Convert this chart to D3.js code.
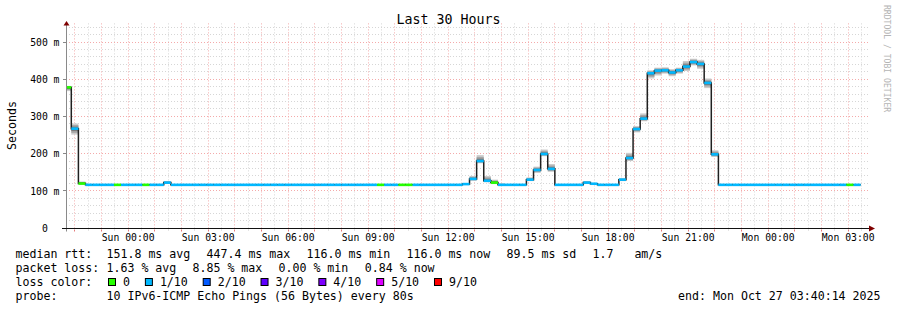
<!DOCTYPE html>
<html>
<head>
<meta charset="utf-8">
<script src="https://cdn.jsdelivr.net/npm/d3@7"></script>
<style>
  body { margin: 0; background: #fff; }
  svg { display: block; font-family: "DejaVu Sans Mono", monospace; }
  text { white-space: pre; }
</style>
</head>
<body>
<div id="chart"></div>
<script>
// median rtt per 960s bin (ms), 112 bins
const medianRtt = [
  378, 267, 119.5, 116, 116, 116, 116, 116, 116, 116, 116, 116, 116, 116, 122, 116,
  116, 116, 116, 116, 116, 116, 116, 116, 116, 116, 116, 116, 116, 116, 116, 116,
  116, 116, 116, 116, 116, 116, 116, 116, 116, 116, 116, 116, 116, 116, 116, 116,
  116, 116, 116, 116, 116, 116, 116, 116, 118, 132, 180, 127, 122, 116, 116, 116,
  116, 130, 156, 199, 159, 116, 116, 116, 116, 122, 119, 116, 116, 116, 130, 188,
  266, 294, 416, 423, 424, 418, 424, 434, 446, 441, 390, 198, 116, 116, 116, 116,
  116, 116, 116, 116, 116, 116, 116, 116, 116, 116, 116, 116, 116, 116, 116, 116
];
// lost pings out of 10, per bin
const lossTenths = [
  0, 1, 0, 1, 1, 1, 1, 0, 1, 1, 1, 0, 1, 1, 1, 1,
  1, 1, 1, 1, 1, 1, 1, 1, 1, 1, 1, 1, 1, 1, 1, 1,
  1, 1, 1, 1, 1, 1, 1, 1, 1, 1, 1, 1, 0, 1, 1, 0,
  0, 1, 1, 1, 1, 1, 1, 1, 1, 1, 1, 1, 0, 1, 1, 1,
  1, 1, 1, 1, 1, 1, 1, 1, 1, 1, 1, 1, 1, 1, 1, 1,
  1, 1, 1, 1, 1, 1, 1, 1, 1, 1, 1, 1, 1, 1, 1, 1,
  1, 1, 1, 1, 1, 1, 1, 1, 1, 1, 1, 1, 1, 1, 0, 1
];
// smoke: lowest and highest ping per bin (ms)
const smokeLo = [
  368, 251, 118, 116, 116, 116, 116, 116, 116, 116, 116, 116, 116, 116, 119, 116,
  116, 116, 116, 116, 116, 116, 116, 116, 116, 116, 116, 116, 116, 116, 116, 116,
  116, 116, 116, 116, 116, 116, 116, 116, 116, 116, 116, 116, 116, 116, 116, 116,
  116, 116, 116, 116, 116, 116, 116, 116, 116, 127, 174, 123, 118, 116, 116, 116,
  116, 126, 148, 193, 151, 116, 116, 116, 116, 119, 117, 116, 116, 116, 126, 180,
  257, 287, 402, 410, 415, 408, 415, 422, 437, 428, 376, 191, 116, 116, 116, 116,
  116, 116, 116, 116, 116, 116, 116, 116, 116, 116, 116, 116, 116, 116, 116, 116
];
const smokeHi = [
  382, 281, 125, 117, 117, 117, 117, 117, 117, 117, 117, 117, 117, 117, 125, 117,
  117, 117, 117, 117, 117, 117, 117, 117, 117, 117, 117, 117, 117, 117, 117, 117,
  117, 117, 117, 117, 117, 117, 117, 117, 117, 117, 117, 117, 117, 117, 117, 117,
  117, 117, 117, 117, 117, 117, 117, 117, 121, 140, 196, 140, 130, 120, 117, 117,
  117, 136, 165, 211, 172, 117, 117, 117, 117, 125, 121, 117, 117, 117, 134, 202,
  274, 308, 424, 431, 432, 427, 431, 449, 455, 452, 402, 209, 117, 117, 117, 117,
  117, 117, 117, 117, 117, 117, 117, 117, 117, 117, 117, 117, 117, 117, 117, 117
];

const yTicks = [0, 100, 200, 300, 400, 500];
const lossLegendTenths = [0, 1, 2, 3, 4, 5, 9];
const lossLegendLabels = ["0", "1/10", "2/10", "3/10", "4/10", "5/10", "9/10"];
const lossColors = { 0: "#26ff00", 1: "#00b8ff", 2: "#0059ff", 3: "#5e00ff", 4: "#7e00ff", 5: "#dd00ff", 9: "#ff0000" };

const rttStats = ["151.8 ms avg", "447.4 ms max", "116.0 ms min", "116.0 ms now", "89.5 ms sd", "1.7   am/s"];
const lossStats = ["1.63 % avg", "8.85 % max", "0.00 % min", "0.84 % now"];
const probeText = "10 IPv6-ICMP Echo Pings (56 Bytes) every 80s";
const endText = "end: Mon Oct 27 03:40:14 2025";
const titleText = "Last 30 Hours";

const startTime = Date.UTC(2025, 9, 25, 21, 40, 14);
const endTime = Date.UTC(2025, 9, 27, 3, 40, 14);
const binSeconds = 960;
const firstBinStart = startTime - 245 * 1000;

class SmokeChart {
    constructor() {
        const attrs = {
            container: "#chart",
            width: 897,
            height: 310,
            plotLeft: 66,
            plotRight: 866,
            plotTop: 23.4,
            plotBottom: 228,
            svg: null,
            x: null,
            y: null,
        };
        this.getState = () => attrs;
        this.setState = (d) => Object.assign(attrs, d);
    }

    render() {
        this.drawSvg();
        this.setupScales();
        this.drawGrid();
        this.drawSmoke();
        this.drawMedian();
        this.drawAxes();
        this.drawTexts();
        this.drawLegend();
        return this;
    }

    drawSvg() {
        const { container, width, height } = this.getState();
        const svg = d3.select(container).append("svg")
            .attr("width", width)
            .attr("height", height);
        svg.append("rect").attr("width", width).attr("height", height).attr("fill", "#fff");
        this.setState({ svg });
    }

    setupScales() {
        const { plotLeft, plotRight, plotTop, plotBottom } = this.getState();
        const x = d3.scaleUtc().domain([startTime, endTime]).range([plotLeft, plotRight]);
        const y = d3.scaleLinear().domain([0, 550]).range([plotBottom, plotTop]);
        this.setState({ x, y });
    }

    drawGrid() {
        const { svg, x, y, plotLeft, plotRight, plotTop, plotBottom } = this.getState();
        const crisp = v => Math.floor(v) + 0.5;
        const g = svg.append("g").attr("class", "grid");

        const halfHours = d3.utcMinute.every(30).range(new Date(startTime), new Date(endTime));
        g.selectAll(".vgrid").data(halfHours).join("line")
            .attr("x1", d => crisp(x(d))).attr("x2", d => crisp(x(d)))
            .attr("y1", plotTop).attr("y2", plotBottom)
            .attr("stroke", d => d.getUTCMinutes() === 0 ? "#f4aaaa" : "#d6d6d6")
            .attr("stroke-dasharray", "1,2");

        const minor = d3.range(20, 550, 20);
        g.selectAll(".hgrid").data(minor).join("line")
            .attr("x1", plotLeft).attr("x2", plotRight + 2)
            .attr("y1", d => crisp(y(d))).attr("y2", d => crisp(y(d)))
            .attr("stroke", d => d % 100 === 0 ? "#f4aaaa" : "#d6d6d6")
            .attr("stroke-dasharray", "1,2");
    }

    getBins() {
        return medianRtt.map((v, i) => {
            const t0 = firstBinStart + i * binSeconds * 1000;
            return {
                t0: Math.max(t0, startTime),
                t1: t0 + binSeconds * 1000,
                median: v,
                loss: lossTenths[i],
                lo: smokeLo[i],
                hi: smokeHi[i]
            };
        });
    }

    drawSmoke() {
        const { svg, x, y } = this.getState();
        const bins = this.getBins();
        // nested bands, lighter away from the median
        const shades = [[1, "#cccccc"], [0.7, "#a6a6a6"], [0.4, "#7a7a7a"]];
        const g = svg.append("g").attr("class", "smoke");
        shades.forEach(([k, color]) => {
            g.selectAll(null).data(bins).join("rect")
                .attr("x", d => x(d.t0))
                .attr("width", d => x(d.t1) - x(d.t0))
                .attr("y", d => y(d.median + (d.hi - d.median) * k))
                .attr("height", d => y(d.median - (d.median - d.lo) * k) - y(d.median + (d.hi - d.median) * k))
                .attr("fill", color);
        });
    }

    drawMedian() {
        const { svg, x, y } = this.getState();
        const bins = this.getBins();
        const pts = bins.flatMap(d => [[x(d.t0), y(d.median)], [x(d.t1), y(d.median)]]);
        svg.append("path")
            .attr("d", d3.line()(pts))
            .attr("fill", "none")
            .attr("stroke", "#202020")
            .attr("stroke-width", 1.5);

        svg.append("g").selectAll("rect").data(bins).join("rect")
            .attr("x", d => x(d.t0))
            .attr("width", d => x(d.t1) - x(d.t0))
            .attr("y", d => y(d.median) - 1.3)
            .attr("height", 2.6)
            .attr("fill", d => lossColors[d.loss]);
    }

    drawAxes() {
        const { svg, x, y, plotLeft, plotRight, plotTop, plotBottom } = this.getState();
        const g = svg.append("g").attr("class", "axes");
        const ax = plotLeft + 0.5;
        const ay = plotBottom + 0.5;

        // x ticks (hourly, red)
        const hours = d3.utcHour.every(1).range(new Date(startTime), new Date(endTime));
        g.selectAll(".xtick").data(hours).join("line")
            .attr("x1", d => Math.floor(x(d)) + 0.5).attr("x2", d => Math.floor(x(d)) + 0.5)
            .attr("y1", ay + 1).attr("y2", ay + 3)
            .attr("stroke", "#e57a7a");
        const halfHours = d3.utcMinute.every(30).filter(d => d.getUTCMinutes() === 30)
            .range(new Date(startTime), new Date(endTime));
        g.selectAll(".xtick2").data(halfHours).join("line")
            .attr("x1", d => Math.floor(x(d)) + 0.5).attr("x2", d => Math.floor(x(d)) + 0.5)
            .attr("y1", ay + 1).attr("y2", ay + 2)
            .attr("stroke", "#c8c8c8");

        // y ticks
        g.selectAll(".ytick").data(yTicks).join("line")
            .attr("x1", plotLeft - 3).attr("x2", plotLeft)
            .attr("y1", d => Math.floor(y(d)) + 0.5).attr("y2", d => Math.floor(y(d)) + 0.5)
            .attr("stroke", "#888");

        g.append("line")
            .attr("x1", ax).attr("x2", ax)
            .attr("y1", plotTop - 1).attr("y2", ay + 3)
            .attr("stroke", "#8a8a8a");
        g.append("line")
            .attr("x1", plotLeft - 4).attr("x2", plotRight + 4)
            .attr("y1", ay).attr("y2", ay)
            .attr("stroke", "#111");

        // arrows
        g.append("path")
            .attr("d", `M${ax - 3},${plotTop + 2} L${ax + 3},${plotTop + 2} L${ax},${plotTop - 2.5} Z`)
            .attr("fill", "#7f0000");
        g.append("path")
            .attr("d", `M${plotRight + 3},${ay - 3} L${plotRight + 3},${ay + 3} L${plotRight + 9},${ay} Z`)
            .attr("fill", "#7f0000");

        // labels
        const fmt = d3.utcFormat("%a %H:%M");
        const labelHours = d3.utcHour.every(3).range(new Date(startTime), new Date(endTime));
        g.selectAll(".xlabel").data(labelHours).join("text")
            .attr("x", d => x(d))
            .attr("y", plotBottom + 13)
            .attr("text-anchor", "middle")
            .attr("font-size", "9.75px")
            .attr("fill", "#000")
            .text(d => fmt(d));

        g.selectAll(".ylabel").data(yTicks).join("text")
            .attr("x", plotLeft - 6.5)
            .attr("y", d => y(d) + 3.8)
            .attr("text-anchor", "end")
            .attr("font-size", "9.75px")
            .attr("fill", "#000")
            .text(d => d === 0 ? "0  " : `${d} m`);
    }

    drawTexts() {
        const { svg, width } = this.getState();
        svg.append("text")
            .attr("x", width / 2)
            .attr("y", 24)
            .attr("text-anchor", "middle")
            .attr("font-size", "13.3px")
            .text(titleText);

        svg.append("text")
            .attr("transform", "translate(15.5,125.5) rotate(-90)")
            .attr("text-anchor", "middle")
            .attr("font-size", "11.6px")
            .text("Seconds");

        svg.append("text")
            .attr("transform", "translate(884,5) rotate(90)")
            .attr("text-anchor", "start")
            .attr("font-size", "8.1px")
            .attr("fill", "#b4b4b4")
            .text("RRDTOOL / TOBI OETIKER");
    }

    drawLegend() {
        const { svg } = this.getState();
        const g = svg.append("g").attr("class", "legend").attr("font-size", "11.6px");
        const rows = [258.3, 272.3, 286.3, 300.3];
        const put = (xx, yy, t, anchor) => g.append("text")
            .attr("x", xx).attr("y", yy)
            .attr("text-anchor", anchor || "start")
            .text(t);

        put(15.5, rows[0], "median rtt:");
        [106.5, 206.5, 306.5, 406.5, 506.5, 592.5].forEach((xx, i) => put(xx, rows[0], rttStats[i]));

        put(15.5, rows[1], "packet loss:");
        [106.5, 192.5, 278.5, 364.8].forEach((xx, i) => put(xx, rows[1], lossStats[i]));

        put(15.5, rows[2], "loss color:");
        let cx = 108.5;
        lossLegendTenths.forEach((k, i) => {
            g.append("rect")
                .attr("x", cx).attr("y", rows[2] - 7.8)
                .attr("width", 7).attr("height", 7)
                .attr("fill", lossColors[k])
                .attr("stroke", "#000");
            const t = put(cx + 14.5, rows[2], lossLegendLabels[i]);
            cx = cx + 14.5 + t.node().getComputedTextLength() + 15.4;
        });

        put(15.5, rows[3], "probe:");
        put(106.5, rows[3], probeText);
        put(880.5, rows[3], endText, "end");
    }
}

new SmokeChart().render();
</script>
</body>
</html>
